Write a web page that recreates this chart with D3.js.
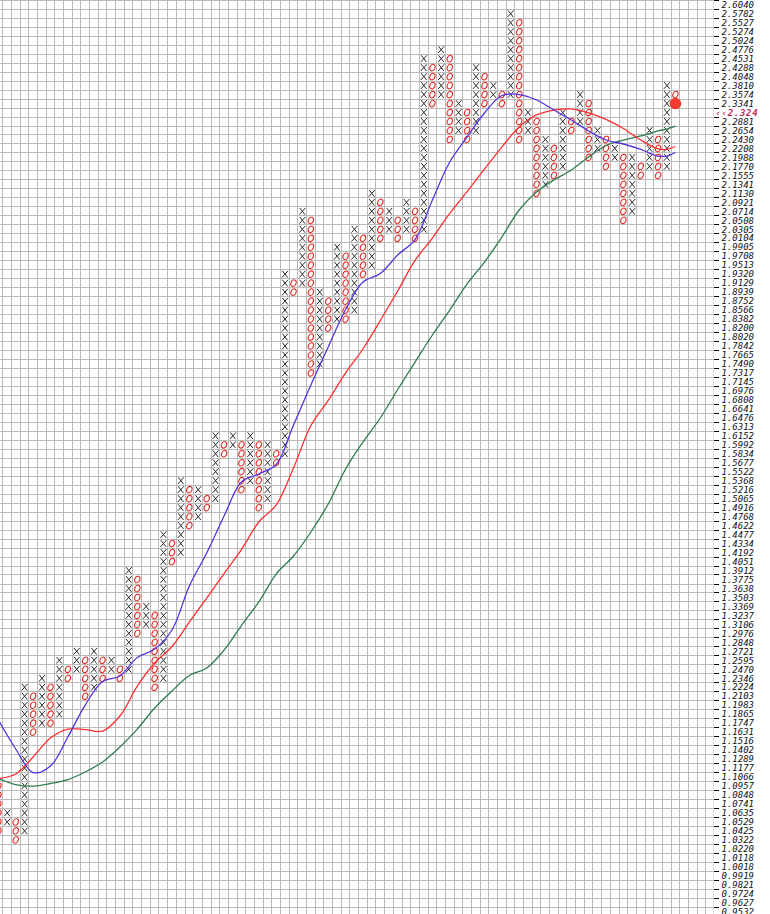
<!DOCTYPE html>
<html><head><meta charset="utf-8">
<script src="https://cdn.jsdelivr.net/npm/d3@7"></script>
<style>html,body{margin:0;padding:0;background:#fff;overflow:hidden}</style>
</head><body><div id="chart"></div>
<script>
// ---- data ----
const tickLabels = ["2.6040","2.5782","2.5527","2.5274","2.5024","2.4776","2.4531","2.4288","2.4048","2.3810","2.3574","2.3341","2.3110","2.2881","2.2654","2.2430","2.2208","2.1988","2.1770","2.1555","2.1341","2.1130","2.0921","2.0714","2.0508","2.0305","2.0104","1.9905","1.9708","1.9513","1.9320","1.9129","1.8939","1.8752","1.8566","1.8382","1.8200","1.8020","1.7842","1.7665","1.7490","1.7317","1.7145","1.6976","1.6808","1.6641","1.6476","1.6313","1.6152","1.5992","1.5834","1.5677","1.5522","1.5368","1.5216","1.5065","1.4916","1.4768","1.4622","1.4477","1.4334","1.4192","1.4051","1.3912","1.3775","1.3638","1.3503","1.3369","1.3237","1.3106","1.2976","1.2848","1.2721","1.2595","1.2470","1.2346","1.2224","1.2103","1.1983","1.1865","1.1747","1.1631","1.1516","1.1402","1.1289","1.1177","1.1066","1.0957","1.0848","1.0741","1.0635","1.0529","1.0425","1.0322","1.0220","1.0118","1.0018","0.9919","0.9821","0.9724","0.9627","0.9532"];

const colTypes = ("OXOXOXOXOX" + "OXOXOXOXOX" + "OXOXOXOXOX" + "OXOXOXOXOX" + "OXOXOXOXOX" + "OXOXOXOXOX" + "OXOXOXOXOX" + "OXOXOXOX" + "O").split("");

const colHigh = [1.0957,1.0635,1.0529,1.2224,1.2103,1.2346,1.2224,1.2595,1.2470,1.2721,
                 1.2595,1.2721,1.2595,1.2595,1.2470,1.3912,1.3775,1.3369,1.3237,1.4477,
                 1.4334,1.5368,1.5216,1.5216,1.5065,1.6152,1.5992,1.6152,1.5992,1.6152,
                 1.5992,1.5992,1.5834,1.9320,1.9129,2.0714,2.0508,1.8939,1.8752,1.9905,
                 1.9708,2.0305,2.0104,2.1130,2.0921,2.0714,2.0508,2.0921,2.0714,2.4531,
                 2.4288,2.4776,2.4531,2.3341,2.3110,2.4288,2.4048,2.3810,2.3574,2.5782,
                 2.5527,2.3110,2.2881,2.2430,2.2208,2.3110,2.2881,2.3574,2.3341,2.2654,
                 2.2430,2.2208,2.1988,2.1988,2.1770,2.2654,2.2430,2.3810,2.3574];
const colLow  = [1.0425,1.0529,1.0322,1.0425,1.1631,1.1747,1.1747,1.1865,1.2346,1.2470,
                 1.2103,1.2224,1.2346,1.2470,1.2346,1.2470,1.2976,1.3106,1.2224,1.2346,
                 1.4051,1.4192,1.4622,1.4768,1.4916,1.5065,1.5834,1.5992,1.5216,1.5368,
                 1.4916,1.5065,1.5677,1.5834,1.8939,1.9129,1.7317,1.7490,1.8200,1.8382,
                 1.8382,1.8566,1.9320,1.9513,2.0104,2.0305,2.0104,2.0305,2.0104,2.0305,
                 2.3341,2.3574,2.2430,2.2654,2.2430,2.2654,2.3341,2.3574,2.3341,2.3574,
                 2.2430,2.2654,2.1130,2.1341,2.1555,2.1770,2.2654,2.2881,2.1988,2.2208,
                 2.1770,2.1988,2.0508,2.0714,2.1555,2.1770,2.1555,2.1770,2.3574];

const maCols  = [0,2,4,6,8,10,12,14,16,18,20,22,24,26,28,30,32,34,36,38,40,42,44,46,48,50,52,54,56,58,60,62,64,66,68,70,72,74,76,77,78];
const maBlue  = [1.1789,1.1416,1.1122,1.1203,1.1569, 1.1986,1.2302,1.2378,1.2635,1.2753,
                 1.3025,1.3676,1.4185,1.4778,1.5347, 1.5483,1.5647,1.6346,1.7087,1.7823,
                 1.8579,1.9153,1.9334,1.9735,2.0076, 2.0974,2.1877,2.2492,2.3098,2.3551,
                 2.3575,2.3433,2.3174,2.2919,2.2643, 2.2417,2.2318,2.2184,2.2022,2.2022,2.2109];
const maRed   = [1.1048,1.1104,1.1316,1.1556,1.1671, 1.1665,1.1645,1.1841,1.2240,1.2557,
                 1.2789,1.3141,1.3495,1.3866,1.4240, 1.4681,1.4960,1.5587,1.6337,1.6798,
                 1.7317,1.7783,1.8353,1.8963,1.9616, 2.0109,2.0665,2.1173,2.1707,2.2242,
                 2.2742,2.3048,2.3174,2.3202,2.3098, 2.2933,2.2706,2.2417,2.2195,2.2188,2.2256];
const maGreen = [1.1048,1.0975,1.0957,1.0988,1.1036, 1.1129,1.1253,1.1441,1.1671,1.1946,
                 1.2174,1.2384,1.2488,1.2739,1.3090, 1.3436,1.3858,1.4138,1.4519,1.4977,
                 1.5569,1.6041,1.6474,1.7002,1.7528, 1.8061,1.8567,1.9112,1.9582,2.0131,
                 2.0744,2.1160,2.1446,2.1683,2.1998, 2.2280,2.2417,2.2517,2.2643,2.2692,2.2767];

const currentPrice = "2.324";
const dotCol = 78, dotPrice = 2.3341;

// ---- layout ----
const W = 770, H = 914;
const colW = 8.68, rowH = 8.98;
const plotRight = 713.5;
const tickVals = tickLabels.map(Number);

const x = d3.scaleLinear().domain([0, 78]).range([-1.6, -1.6 + colW * 78]);
const y = d3.scaleLog().domain([2.6040, 0.9532]).range([4.8, 4.8 + rowH * 101]);

const svg = d3.select("#chart").append("svg")
  .attr("width", W).attr("height", H)
  .style("display", "block").style("background", "#fff");

// grid
const grid = svg.append("g").attr("stroke", "#bababa").attr("stroke-width", 1).attr("shape-rendering", "crispEdges");
const hLines = tickVals.map(v => y(v) - rowH / 2).concat([y(tickVals[tickVals.length - 1]) + rowH / 2]);
grid.selectAll("line.h").data(hLines).join("line").attr("class", "h")
  .attr("x1", 0).attr("x2", plotRight).attr("y1", d => d).attr("y2", d => d);
const vLines = d3.range(0, 83).map(c => x(c) + colW / 2).filter(v => v <= plotRight + 1);
grid.selectAll("line.v").data(vLines).join("line").attr("class", "v")
  .attr("x1", d => Math.min(d, plotRight)).attr("x2", d => Math.min(d, plotRight))
  .attr("y1", 0).attr("y2", H);

// boxes
const boxes = [];
colTypes.forEach((t, c) => {
  tickVals.forEach(v => {
    if (v <= colHigh[c] + 1e-9 && v >= colLow[c] - 1e-9) boxes.push({c, v, t});
  });
});
const marks = svg.append("g");
marks.selectAll("path.x").data(boxes.filter(b => b.t === "X")).join("path").attr("class", "x")
  .attr("transform", d => `translate(${x(d.c)},${y(d.v)})`)
  .attr("d", "M-2.9,3.3L3.2,-3.4M-2.5,-3.4L2.8,3.3")
  .attr("fill", "none").attr("stroke", "#2a2a2a").attr("stroke-width", 1);
marks.selectAll("ellipse.o").data(boxes.filter(b => b.t === "O")).join("ellipse").attr("class", "o")
  .attr("transform", d => `translate(${x(d.c)},${y(d.v)}) rotate(22)`)
  .attr("rx", 2.5).attr("ry", 3.4)
  .attr("fill", "none").attr("stroke", "#e42a22").attr("stroke-width", 1.1);

// moving averages
const line = d3.line().x((d, i) => x(maCols[i])).y(d => y(d)).curve(d3.curveCatmullRom.alpha(0.5));
[[maGreen, "#2f7d4e"], [maRed, "#ff2e2e"], [maBlue, "#5533e0"]].forEach(([arr, col]) => {
  svg.append("path").datum(arr).attr("d", line)
    .attr("fill", "none").attr("stroke", col).attr("stroke-width", 1.3);
});

// current box dot
svg.append("circle").attr("cx", x(dotCol)).attr("cy", y(dotPrice)).attr("r", 5.8).attr("fill", "#f03a32");

// axis
const cp = +currentPrice;
const axis = svg.append("g");
axis.append("rect").attr("x", plotRight).attr("y", 0).attr("width", W - plotRight).attr("height", H).attr("fill", "#fff");
axis.selectAll("line.t").data(tickVals).join("line").attr("class", "t")
  .attr("x1", plotRight).attr("x2", 718.5)
  .attr("y1", d => y(d) - rowH / 2).attr("y2", d => y(d) - rowH / 2)
  .attr("stroke", "#000").attr("stroke-width", 1).attr("shape-rendering", "crispEdges");
const markerRow = tickVals.find(v => v <= cp && cp < v * 1.01);
axis.selectAll("text.lbl").data(tickLabels.filter(l => +l !== markerRow)).join("text").attr("class", "lbl")
  .attr("x", 721.5).attr("y", d => y(+d) + 3.2)
  .attr("font-family", "DejaVu Sans Mono").attr("font-style", "italic").attr("font-size", 9)
  .attr("fill", "#111").text(d => d);
axis.append("text").attr("x", 715.5).attr("y", y(markerRow) + 3.3)
  .attr("font-family", "DejaVu Sans Mono").attr("font-style", "italic").attr("font-weight", "bold")
  .attr("font-size", 9).attr("letter-spacing", 0.7).attr("fill", "#c8285a").text("\u2039\u2039" + currentPrice);
</script>
</body></html>
